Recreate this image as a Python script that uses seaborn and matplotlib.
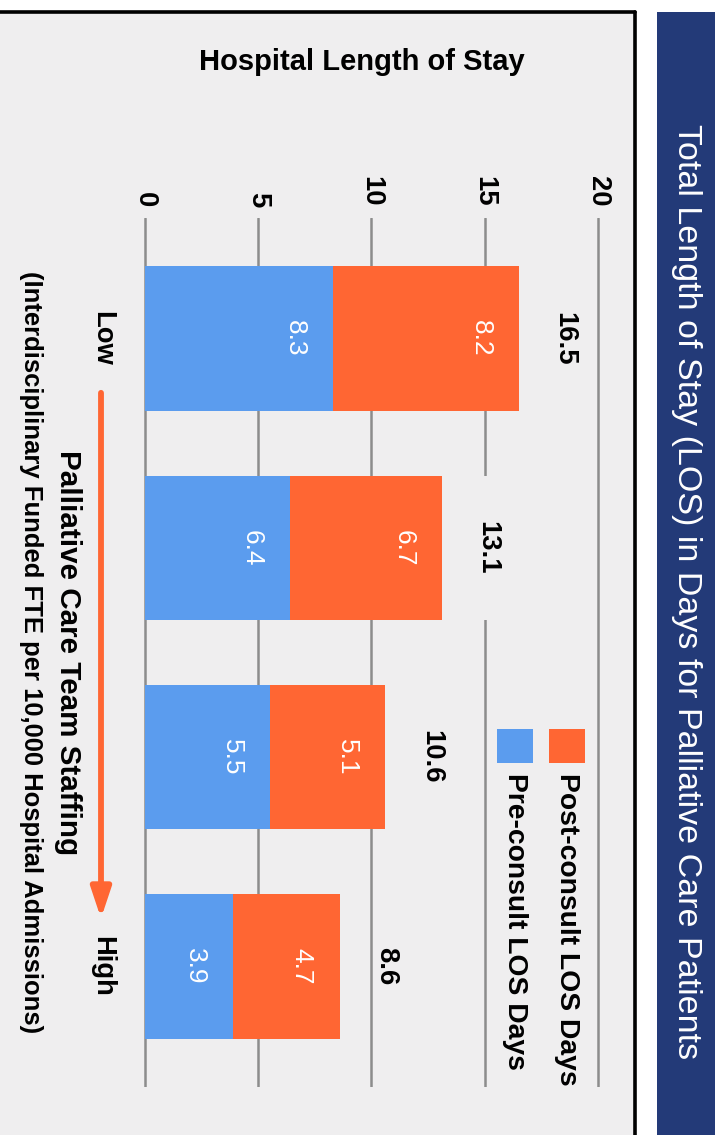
import matplotlib
matplotlib.use("Agg")
import matplotlib.pyplot as plt
import seaborn as sns
import pandas as pd
from matplotlib import font_manager
from matplotlib.patches import Rectangle
from matplotlib.lines import Line2D
from matplotlib.transforms import blended_transform_factory

# ---------------- data ----------------
categories = ["Low", "Mid-low", "Mid-high", "High"]
category_tick_labels = ["Low", "", "", "High"]
pre_consult = [8.3, 6.4, 5.5, 3.9]
post_consult = [8.2, 6.7, 5.1, 4.7]
totals = [16.5, 13.1, 10.6, 8.6]
value_ticks = [0, 5, 10, 15, 20]
series_names = ["Post-consult LOS Days", "Pre-consult LOS Days"]
title = "Total Length of Stay (LOS) in Days for Palliative Care Patients"
value_axis_title = "Hospital Length of Stay"
cat_title = "Palliative Care Team Staffing"
cat_subtitle = "(Interdisciplinary Funded FTE per 10,000 Hospital Admissions)"

# ---------------- style ----------------
ORANGE = "#FF6633"
BLUE = "#5B9CEE"
NAVY = "#233A78"
BG = "#EFEEEF"
GRID = "#8C8C8C"

sns.set_theme(style="white")
available = {f.name for f in font_manager.fontManager.ttflist}
HAS_NARROW = "Liberation Sans Narrow" in available
NARROW = ["Liberation Sans Narrow", "Liberation Sans", "DejaVu Sans"] if HAS_NARROW else ["Liberation Sans", "DejaVu Sans"]
REG = ["Liberation Sans", "DejaVu Sans"]
plt.rcParams["font.family"] = REG
plt.rcParams["text.color"] = "black"
plt.rcParams["xtick.color"] = "black"
plt.rcParams["ytick.color"] = "black"
plt.rcParams["axes.labelcolor"] = "black"


def ns(size):
    return size if HAS_NARROW else size * 0.82


W, H = 723, 1135
fig = plt.figure(figsize=(W / 100, H / 100), dpi=100, facecolor="white")


def fx(px):
    return px / W


def fy(py):
    return 1 - py / H


# panel background and border
fig.add_artist(Rectangle((0, 0), fx(635), fy(11.5), transform=fig.transFigure,
                         facecolor=BG, edgecolor="none", zorder=0))
fig.add_artist(Line2D([0, fx(635)], [fy(11.5), fy(11.5)], transform=fig.transFigure,
                      color="black", lw=2.6, zorder=1))
fig.add_artist(Line2D([fx(635), fx(635)], [fy(11.5), 0], transform=fig.transFigure,
                      color="black", lw=2.6, zorder=1))
# navy title band
fig.add_artist(Rectangle((fx(657), 0), fx(715) - fx(657), fy(12), transform=fig.transFigure,
                         facecolor=NAVY, edgecolor="none", zorder=0))
fig.text(fx(686), fy(592), title, rotation=-90, ha="center", va="center",
         color="white", fontsize=24.5, family=REG)

# ---------------- axes ----------------
pad = 0.1
ppu = (598 - 145) / 20.0
ax_left = 145 - pad * ppu
ax_right = 598 + pad * ppu
ax_top, ax_bottom = 218, 1087
ax = fig.add_axes([fx(ax_left), fy(ax_bottom), fx(ax_right) - fx(ax_left), (ax_bottom - ax_top) / H])
ax.set_facecolor("none")

bar_width = 0.69
df = pd.DataFrame({"category": categories, "pre": pre_consult, "post": post_consult, "total": totals})
sns.barplot(data=df, x="total", y="category", order=categories, orient="h", color=ORANGE,
            saturation=1, width=bar_width, errorbar=None, linewidth=0, ax=ax, zorder=2)
sns.barplot(data=df, x="pre", y="category", order=categories, orient="h", color=BLUE,
            saturation=1, width=bar_width, errorbar=None, linewidth=0, ax=ax, zorder=3)

ax.set_xlim(-pad, 20 + pad)
ax.set_ylim(3.575, -0.575)
for s in ax.spines.values():
    s.set_visible(False)
ax.set_xlabel("")
ax.set_ylabel("")

ax.set_xticks(value_ticks)
ax.set_xticklabels([str(v) for v in value_ticks], rotation=-90, fontweight="bold",
                   fontsize=ns(24), family=NARROW, color="black")
ax.xaxis.tick_top()
ax.tick_params(axis="x", length=0, pad=8, top=True, bottom=False, labeltop=True, labelbottom=False)
ax.xaxis.grid(True, color=GRID, lw=1.8)
ax.yaxis.grid(False)
ax.set_axisbelow(True)

ax.set_yticks(range(len(categories)))
ax.set_yticklabels(category_tick_labels, rotation=-90, fontweight="bold", fontsize=ns(24),
                   family=NARROW, va="center", ha="right", color="black")
ax.tick_params(axis="y", length=0, pad=20)

# value labels inside segments, near inner end
inset = 38 / ppu
label_off = 46 / ppu
box_w = 20 / ppu
for i in range(len(categories)):
    ax.text(pre_consult[i] - inset, i, f"{pre_consult[i]:.1f}", rotation=-90, ha="center",
            va="center", color="white", fontsize=ns(23), family=NARROW, zorder=5)
    ax.text(totals[i] - inset, i, f"{post_consult[i]:.1f}", rotation=-90, ha="center",
            va="center", color="white", fontsize=ns(23), family=NARROW, zorder=5)
    # label background box spanning the bar height (hides gridline behind label)
    ax.add_patch(Rectangle((totals[i] + label_off - box_w / 2, i - bar_width / 2), box_w, bar_width,
                           facecolor=BG, edgecolor="none", zorder=1))
    ax.text(totals[i] + label_off, i, f"{totals[i]:.1f}", rotation=-90, ha="center",
            va="center", color="black", fontweight="bold", fontsize=ns(24), family=NARROW,
            zorder=5)

# arrow Low -> High
blend = blended_transform_factory(ax.transAxes, ax.transData)
ax_w = ax_right - ax_left
arrow_x = (101 - ax_left) / ax_w
ax.annotate("", xy=(arrow_x, 2.77), xytext=(arrow_x, 0.26), xycoords=blend, textcoords=blend,
            arrowprops=dict(arrowstyle="-|>,head_length=1.5,head_width=0.5", color=ORANGE,
                            lw=4.2, shrinkA=0, shrinkB=0), annotation_clip=False)

# category axis titles
ax.text((68 - ax_left) / ax_w, 0.5, cat_title, transform=ax.transAxes, rotation=-90,
        ha="center", va="center", fontweight="bold", fontsize=ns(26), family=NARROW)
ax.text((31 - ax_left) / ax_w, 0.5, cat_subtitle, transform=ax.transAxes, rotation=-90,
        ha="center", va="center", fontweight="bold", fontsize=ns(22.5), family=NARROW)

# value axis title (horizontal)
fig.text(fx(362), fy(62), value_axis_title, ha="center", va="center", fontweight="bold",
         fontsize=21, family=REG, color="black")

# legend (rotated)
legend_colors = [ORANGE, BLUE]
legend_x = [567, 515]
for name, col, cx in zip(series_names, legend_colors, legend_x):
    fig.add_artist(Rectangle((fx(cx - 18), fy(763)), 36 / W, 34 / H, transform=fig.transFigure,
                             facecolor=col, edgecolor="none", zorder=3))
    fig.text(fx(cx), fy(773), name, rotation=-90, ha="center", va="top", fontweight="bold",
             fontsize=ns(24.8), family=NARROW, color="black")

fig.savefig("out.png", dpi=100, facecolor="white")
